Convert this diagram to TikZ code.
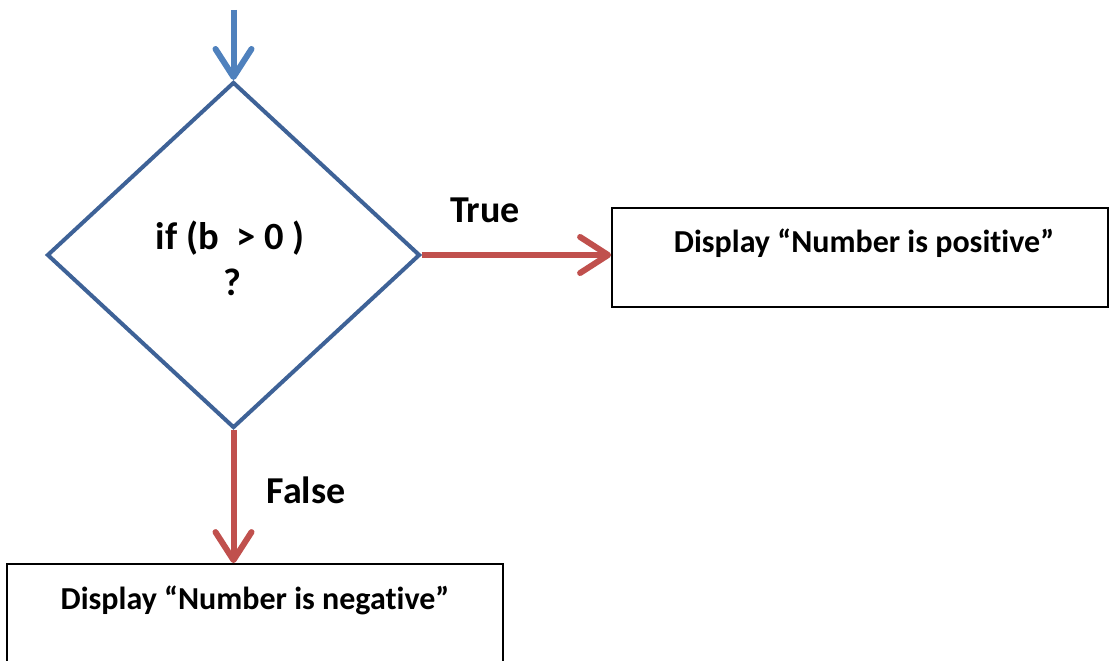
\documentclass[tikz,border=0pt]{standalone}
\usepackage{fontspec}
\setmainfont{Carlito}[Ligatures=CommonOff]
\usetikzlibrary{shapes.geometric,arrows.meta}
\definecolor{flowblue}{HTML}{4F81BD}
\definecolor{edgeblue}{HTML}{3E6297}
\definecolor{flowred}{HTML}{C0504D}
\tikzset{
  decision/.style={diamond, draw=edgeblue, line width=4pt, inner sep=0pt,
    minimum width=373pt, minimum height=346pt},
  outbox/.style={rectangle, draw=black, line width=1.8pt, inner sep=0pt,
    minimum width=496pt, minimum height=99pt},
  flow/.style={line width=6pt,
    -{Straight Barb[length=28pt,width=36pt,round]}},
  boxtext/.style={font=\fontsize{32}{38}\selectfont\bfseries},
  condtext/.style={font=\fontsize{38.5}{44}\selectfont\bfseries},
  branchtext/.style={font=\fontsize{38}{44}\selectfont\bfseries}
}
\begin{document}
\begin{tikzpicture}[x=1pt,y=-1pt]
  \useasboundingbox (0,0) rectangle (1112,661);
  \clip (0,0) rectangle (1112,661);

  % decision and result boxes
  \node[decision] (cond) at (233.5,255) {};
  \node[outbox] (pos) at (860,257.5) {};
  \node[outbox] (neg) at (255,613.5) {};

  % texts
  \node[condtext] (condA) at (230,238) {if (b\ \ > 0 )};
  \node[condtext] (condB) at (232,282) {?};
  \node[boxtext] (posT) at (864,243) {Display “Number is positive”};
  \node[boxtext] (negT) at (255,600) {Display “Number is negative”};
  \node[branchtext] (trueT) at (485,210) {True};
  \node[branchtext] (falseT) at (306,490) {False};

  % connectors
  \coordinate (start) at (233.5,10);
  \draw[flow, draw=flowblue] (start) -- (cond.north);
  \draw[flow, draw=flowred] (cond.east) -- (cond.east -| pos.west);
  \draw[flow, draw=flowred] (cond.south) -- (cond.south |- neg.north);
\end{tikzpicture}
\end{document}
